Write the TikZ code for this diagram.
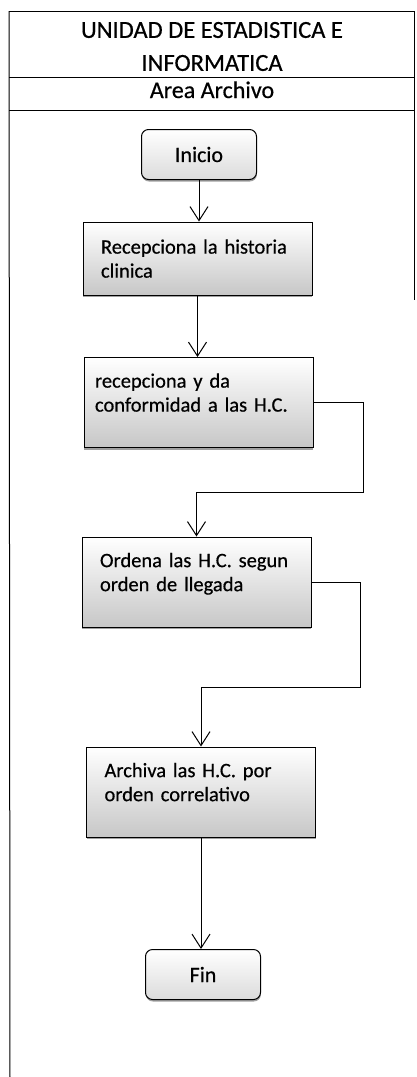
\documentclass[tikz,border=0pt]{standalone}
\usepackage{fontspec}
\setmainfont{Carlito}[FakeBold=0.5]
\usetikzlibrary{positioning, arrows.meta, shadows}

\begin{document}
\begin{tikzpicture}[x=1pt, y=-1pt, line width=1pt, >={Straight Barb[length=14pt, width=18pt]}, font=\fontsize{20.5}{24}\selectfont]

    % Styles for the flow chart boxes
    \tikzset{
        procbox/.style={
            draw, rectangle, align=left, text width=193pt, inner xsep=18pt, inner ysep=4pt,
            minimum height=90pt, text depth=44pt,
            top color=white, middle color=black!5, bottom color=black!22,
            drop shadow={shadow xshift=0.4pt, shadow yshift=-2pt, opacity=0.75}
        },
        termbox/.style={
            draw, rectangle, rounded corners=7pt, minimum width=115pt, minimum height=50pt,
            font=\fontsize{22}{24}\selectfont,
            top color=white, middle color=black!4, bottom color=black!14,
            drop shadow={shadow xshift=0.4pt, shadow yshift=-2pt, opacity=0.75}
        },
        flow/.style={->}
    }

    \useasboundingbox (0,0) rectangle (417,1077);

    % ==========================================
    % Frame with header rows
    % ==========================================
    \draw (9,11) -- (414,11);
    \draw (9,77) -- (414,77);
    \draw (9,110) -- (414,110);
    \draw (9,11) -- (10,1077);
    \draw (414,11) -- (414,300);

    \node (tit) at (212,46.5) [align=center, font=\fontsize{24.5}{33}\selectfont] {UNIDAD DE ESTADISTICA E\\INFORMATICA};
    \node (area) at (212,98) [anchor=base, font=\fontsize{24}{24}\selectfont] {Area Archivo};

    % ==========================================
    % Boxes
    % ==========================================
    \node[termbox] (ini) at (199,154.5) {Inicio};
    \node[procbox, minimum height=73pt, text depth=24pt] (rec) at (197.5,258.5) {Recepciona la historia\\clinica};
    \node[procbox, inner xsep=11pt, text width=207pt] (conf) at (198.5,402.5) {recepciona y da\\conformidad a las H.C.};
    \node[procbox] (ord) at (196.5,582) {Ordena las H.C. segun\\orden de llegada};
    \node[procbox] (arch) at (201,792) {Archiva las H.C. por\\orden correlativo};
    \node[termbox] (fin) at (203,974.5) {Fin};

    % Bend points of the side connectors
    \coordinate (k1) at (363,492);
    \coordinate (k2) at (360,687);

    % ==========================================
    % Connectors
    % ==========================================
    \draw[flow] (ini) -- (ini |- rec.north);
    \draw[flow] (rec) -- (rec |- conf.north);
    \draw[flow] (conf.east) -| (k1) -| (ord.north);
    \draw[flow] (ord.east) -| (k2) -| (arch.north);
    \draw[flow] (arch) -- (arch |- fin.north);

\end{tikzpicture}
\end{document}
